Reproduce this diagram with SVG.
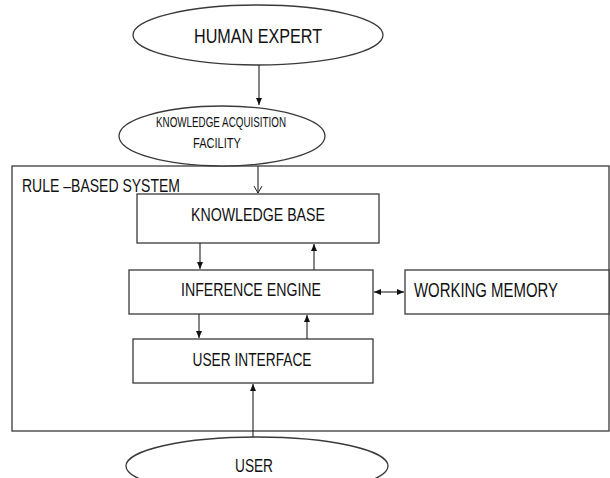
<svg xmlns="http://www.w3.org/2000/svg" width="610" height="478" viewBox="0 0 610 478">
<style>
.s{fill:#fff;stroke:#3a3a3a;stroke-width:1.3}
.t{font-family:"Liberation Sans",Arial,sans-serif;fill:#111}
.c{stroke:#222;stroke-width:1.1;fill:none}
</style>
<defs>
<marker id="ah" markerWidth="8" markerHeight="8" refX="7" refY="4" orient="auto" markerUnits="userSpaceOnUse">
<path d="M0,1 L7,4 L0,7 Z" fill="#111"/>
</marker>
<marker id="ahs" markerWidth="8" markerHeight="8" refX="7" refY="4" orient="auto-start-reverse" markerUnits="userSpaceOnUse">
<path d="M0,1 L7,4 L0,7 Z" fill="#111"/>
</marker>
<marker id="ao" markerWidth="10" markerHeight="10" refX="8" refY="5" orient="auto" markerUnits="userSpaceOnUse">
<path d="M1,1 L8,5 L1,9" fill="none" stroke="#222" stroke-width="1"/>
</marker>
</defs>
<g id="rule-based-system">
<rect class="s" x="12" y="166" width="597" height="265"/>
<text class="t" x="22" y="192" font-size="18" textLength="158" lengthAdjust="spacingAndGlyphs">RULE –BASED SYSTEM</text>
</g>
<g id="human-expert">
<ellipse class="s" cx="258" cy="35" rx="125" ry="30"/>
<text class="t" x="258" y="43" font-size="20" text-anchor="middle" textLength="128" lengthAdjust="spacingAndGlyphs">HUMAN EXPERT</text>
</g>
<g id="knowledge-acquisition-facility">
<ellipse class="s" cx="222" cy="136" rx="103" ry="30"/>
<text class="t" x="221" y="127" font-size="15" text-anchor="middle" textLength="130" lengthAdjust="spacingAndGlyphs">KNOWLEDGE ACQUISITION</text>
<text class="t" x="217" y="148" font-size="15" text-anchor="middle" textLength="48" lengthAdjust="spacingAndGlyphs">FACILITY</text>
</g>
<g id="knowledge-base">
<rect class="s" x="137" y="194" width="242" height="49"/>
<text class="t" x="258" y="221" font-size="19" text-anchor="middle" textLength="134" lengthAdjust="spacingAndGlyphs">KNOWLEDGE BASE</text>
</g>
<g id="inference-engine">
<rect class="s" x="129" y="270" width="244" height="44"/>
<text class="t" x="251" y="296" font-size="18" text-anchor="middle" textLength="140" lengthAdjust="spacingAndGlyphs">INFERENCE ENGINE</text>
</g>
<g id="working-memory">
<rect class="s" x="405" y="270" width="204" height="44"/>
<text class="t" x="414" y="297" font-size="20" textLength="144" lengthAdjust="spacingAndGlyphs">WORKING MEMORY</text>
</g>
<g id="user-interface">
<rect class="s" x="133" y="339" width="240" height="44"/>
<text class="t" x="252" y="366" font-size="19" text-anchor="middle" textLength="119" lengthAdjust="spacingAndGlyphs">USER INTERFACE</text>
</g>
<g id="user">
<ellipse class="s" cx="257" cy="466" rx="131" ry="29"/>
<text class="t" x="254" y="472" font-size="19" text-anchor="middle" textLength="38" lengthAdjust="spacingAndGlyphs">USER</text>
</g>
<g id="connectors">
<line class="c" x1="259" y1="65" x2="259" y2="105" marker-end="url(#ah)"/>
<line class="c" x1="258" y1="166" x2="258" y2="193" marker-end="url(#ao)"/>
<line class="c" x1="200" y1="243" x2="200" y2="269" marker-end="url(#ah)"/>
<line class="c" x1="314" y1="270" x2="314" y2="244" marker-end="url(#ah)"/>
<line class="c" x1="374" y1="292" x2="404" y2="292" marker-start="url(#ahs)" marker-end="url(#ahs)"/>
<line class="c" x1="199" y1="314" x2="199" y2="338" marker-end="url(#ah)"/>
<line class="c" x1="307" y1="339" x2="307" y2="315" marker-end="url(#ah)"/>
<line class="c" x1="253" y1="437" x2="253" y2="384" marker-end="url(#ah)"/>
</g>
</svg>
